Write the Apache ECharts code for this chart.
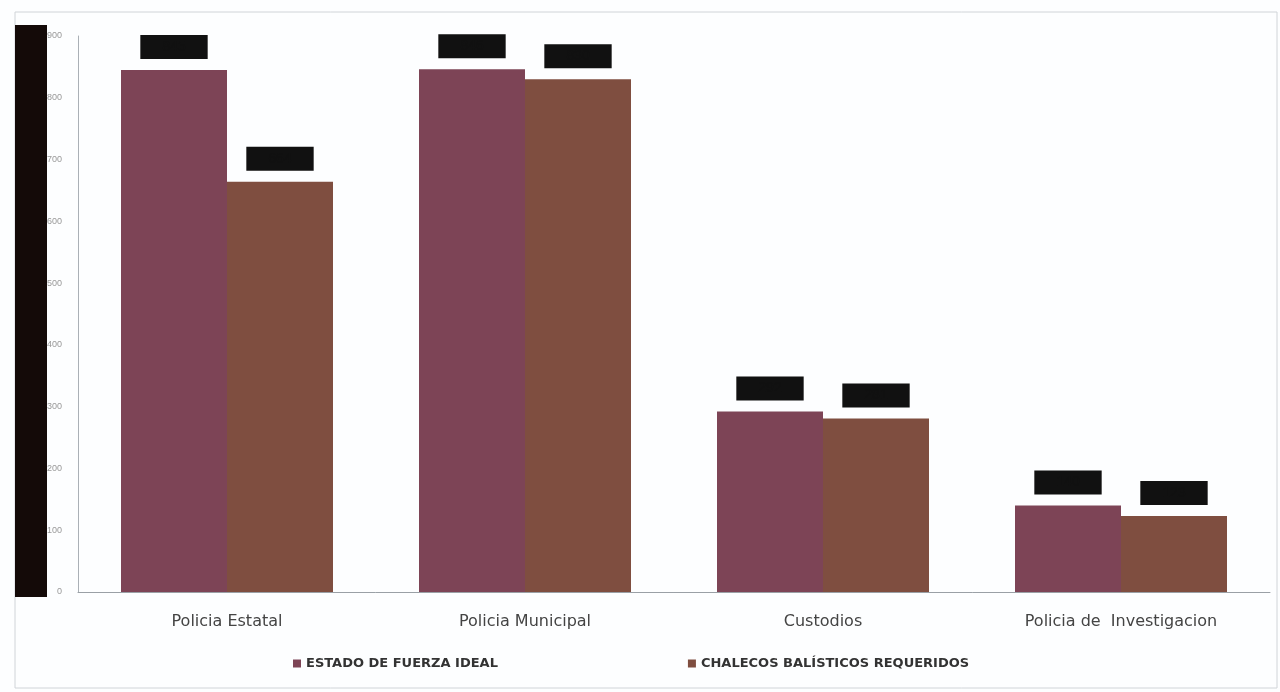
<!DOCTYPE html>
<html>
<head>
<meta charset="utf-8">
<script src="https://cdn.jsdelivr.net/npm/echarts@6/dist/echarts.min.js"></script>
<style>
html,body{margin:0;padding:0;background:#fff;}
#chart{width:1280px;height:692px;}
</style>
</head>
<body>
<div id="chart"></div>
<script>
const categories = ['Policia Estatal', 'Policia Municipal', 'Custodios', 'Policia de  Investigacion'];
const seriesNames = ['ESTADO DE FUERZA IDEAL', 'CHALECOS BALÍSTICOS REQUERIDOS'];
const fuerzaIdeal = [845, 846, 292, 140];
const chalecos = [664, 830, 281, 123];
const yTicks = { min: 0, max: 900, interval: 100 };

const chart = echarts.init(document.getElementById('chart'));
const labelStyle = {
  show: true,
  position: 'top',
  distance: 11,
  color: '#111',
  backgroundColor: '#111',
  padding: [5, 22],
  fontSize: 14
};
chart.setOption({
  backgroundColor: '#fdfeff',
  animation: false,
  graphic: [
    { type: 'rect', shape: { x: 15, y: 12, width: 1262, height: 676 }, style: { fill: 'none', stroke: '#d0d4d8', lineWidth: 1 }, z: 0 },
    { type: 'rect', shape: { x: 15, y: 25, width: 32, height: 572 }, style: { fill: '#140a08' }, z: 100 }
  ],
  grid: { left: 78, right: 10, top: 36, bottom: 100 },
  legend: {
    data: seriesNames,
    bottom: 17,
    left: 288,
    itemGap: 190,
    itemWidth: 8,
    itemHeight: 8,
    icon: 'rect',
    textStyle: { fontSize: 13, fontWeight: 'bold', color: '#333', fontFamily: 'DejaVu Sans' }
  },
  xAxis: {
    type: 'category',
    data: categories,
    axisLine: { lineStyle: { color: '#9aa0a6' } },
    axisTick: { show: false },
    axisLabel: { fontSize: 16, color: '#444', margin: 22, fontFamily: 'DejaVu Sans' }
  },
  yAxis: {
    type: 'value',
    min: yTicks.min,
    max: yTicks.max,
    interval: yTicks.interval,
    axisLine: { show: true, lineStyle: { color: '#aab0b6' } },
    axisTick: { show: false },
    splitLine: { show: false },
    axisLabel: { fontSize: 9, color: '#999', margin: 16 }
  },
  series: [
    { name: seriesNames[0], type: 'bar', data: fuerzaIdeal, barWidth: 106, barGap: '0%', itemStyle: { color: '#7d4456' }, label: labelStyle },
    { name: seriesNames[1], type: 'bar', data: chalecos, barWidth: 106, itemStyle: { color: '#7f4e40' }, label: labelStyle }
  ]
});
</script>
</body>
</html>
